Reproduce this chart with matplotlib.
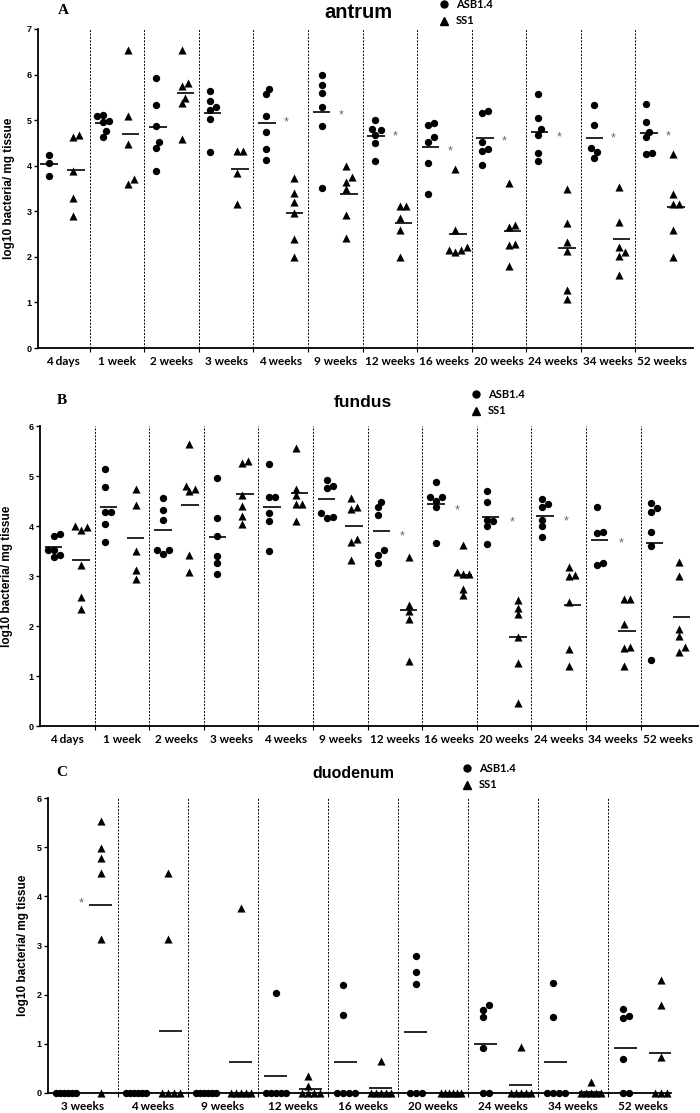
import numpy as np
import matplotlib.pyplot as plt
from matplotlib.lines import Line2D

W, H = 700, 1113

# ---- panel A: antrum ----
antrum_times = ["4 days", "1 week", "2 weeks", "3 weeks", "4 weeks", "9 weeks",
                "12 weeks", "16 weeks", "20 weeks", "24 weeks", "34 weeks", "52 weeks"]
antrum_asb = [[4.24, 4.05, 3.78],
              [5.11, 5.08, 4.99, 4.97, 4.76, 4.63],
              [5.93, 5.33, 4.88, 4.52, 4.39, 3.89],
              [5.65, 5.43, 5.28, 5.22, 5.03, 4.31],
              [5.69, 5.57, 5.09, 4.74, 4.36, 4.12],
              [5.98, 5.77, 5.59, 5.29, 4.88, 3.51],
              [5.00, 4.80, 4.78, 4.68, 4.49, 4.10],
              [4.93, 4.90, 4.63, 4.53, 4.05, 3.39],
              [5.19, 5.15, 4.53, 4.36, 4.33, 4.01],
              [5.57, 5.05, 4.81, 4.68, 4.27, 4.10],
              [5.33, 4.89, 4.39, 4.30, 4.17],
              [5.35, 4.96, 4.74, 4.62, 4.28, 4.26]]
antrum_ss1 = [[4.68, 4.62, 3.89, 3.29, 2.89],
              [6.53, 5.09, 4.47, 3.70, 3.59],
              [6.55, 5.81, 5.75, 5.49, 5.37, 4.59],
              [4.32, 4.32, 3.83, 3.17],
              [3.72, 3.40, 3.21, 2.97, 2.39, 2.00],
              [3.99, 3.76, 3.65, 3.50, 2.91, 2.42],
              [3.11, 3.11, 2.86, 2.59, 2.00],
              [3.92, 2.58, 2.22, 2.16, 2.15, 2.11],
              [3.62, 2.69, 2.66, 2.28, 2.26, 1.79],
              [3.50, 2.75, 2.32, 2.13, 1.27, 1.07],
              [3.54, 2.77, 2.22, 2.11, 2.01, 1.61],
              [4.25, 3.39, 3.16, 3.16, 2.60, 2.00]]
antrum_asb_line = [4.03, 4.94, 4.85, 5.15, 4.93, 5.18, 4.66, 4.42, 4.61, 4.75, 4.61, 4.71]
antrum_ss1_line = [3.90, 4.70, 5.60, 3.93, 2.97, 3.38, 2.75, 2.51, 2.57, 2.20, 2.39, 3.10]
antrum_star = [None, None, None, None, 4.94, 5.11, 4.65, 4.32, 4.53, 4.63, 4.60, 4.65]

# ---- panel B: fundus ----
fundus_times = antrum_times
fundus_asb = [[3.85, 3.81, 3.53, 3.52, 3.42, 3.39],
              [5.14, 4.78, 4.29, 4.29, 4.04, 3.69],
              [4.56, 4.33, 4.13, 3.53, 3.53, 3.45],
              [4.96, 4.17, 3.80, 3.40, 3.27, 3.04],
              [5.23, 4.59, 4.59, 4.27, 4.11, 3.51],
              [4.93, 4.81, 4.77, 4.26, 4.19, 4.17],
              [4.49, 4.38, 4.23, 3.53, 3.43, 3.27],
              [4.88, 4.59, 4.59, 4.51, 4.38, 3.67],
              [4.69, 4.49, 4.13, 4.11, 4.01, 3.65],
              [4.53, 4.44, 4.38, 4.13, 4.01, 3.78],
              [4.39, 3.89, 3.86, 3.27, 3.23],
              [4.47, 4.37, 4.28, 3.88, 3.60, 1.33]]
fundus_ss1 = [[4.00, 3.99, 3.92, 3.22, 2.58, 2.35],
              [4.73, 4.42, 3.51, 3.13, 2.95],
              [5.63, 4.81, 4.73, 4.69, 3.43, 3.09],
              [5.29, 5.25, 4.63, 4.40, 4.20, 4.04],
              [5.55, 4.73, 4.61, 4.44, 4.44, 4.11],
              [4.56, 4.38, 4.34, 3.75, 3.69, 3.33],
              [3.39, 2.43, 2.31, 2.15, 1.30],
              [3.63, 3.09, 3.05, 3.04, 2.75, 2.63],
              [2.53, 2.37, 2.25, 1.78, 1.27, 0.47],
              [3.18, 3.03, 3.01, 2.48, 1.54, 1.20],
              [2.54, 2.54, 2.05, 1.58, 1.56, 1.21],
              [3.28, 3.00, 1.95, 1.80, 1.58, 1.49]]
fundus_asb_line = [3.58, 4.38, 3.93, 3.79, 4.39, 4.54, 3.90, 4.44, 4.19, 4.21, 3.73, 3.67]
fundus_ss1_line = [3.33, 3.77, 4.42, 4.64, 4.66, 4.01, 2.33, 3.03, 1.79, 2.42, 1.91, 2.19]
fundus_star = [None, None, None, None, None, None, 3.80, 4.31, 4.07, 4.09, 3.66, None]

# ---- panel C: duodenum ----
duod_times = ["3 weeks", "4 weeks", "9 weeks", "12 weeks", "16 weeks",
              "20 weeks", "24 weeks", "34 weeks", "52 weeks"]
duod_asb = [[0, 0, 0, 0, 0, 0],
            [0, 0, 0, 0, 0, 0],
            [0, 0, 0, 0, 0, 0],
            [2.03, 0, 0, 0, 0, 0],
            [2.19, 1.58, 0, 0, 0, 0],
            [2.79, 2.46, 2.22, 0, 0, 0],
            [1.78, 1.68, 1.54, 0.92, 0, 0],
            [2.23, 1.54, 0, 0, 0, 0],
            [1.70, 1.56, 1.52, 0.69, 0, 0]]
duod_ss1 = [[5.53, 4.99, 4.77, 4.48, 3.13, 0],
            [4.48, 3.13, 0, 0, 0, 0],
            [3.76, 0, 0, 0, 0, 0],
            [0.35, 0.14, 0, 0, 0, 0],
            [0.66, 0, 0, 0, 0, 0],
            [0, 0, 0, 0, 0, 0],
            [0.93, 0, 0, 0, 0, 0],
            [0.22, 0, 0, 0, 0, 0],
            [2.29, 1.79, 0.74, 0, 0, 0]]
duod_asb_line = [0, 0, 0, 0.34, 0.63, 1.25, 0.99, 0.63, 0.92]
duod_ss1_line = [3.82, 1.27, 0.63, 0.08, 0.11, 0, 0.16, 0.03, 0.81]
duod_star = [3.86, None, None, None, None, None, None, None, None]

TICK_FONT = "Lato"
SANS = "Liberation Sans"


def px_rect(left, top, right, bottom):
    return [left / W, 1 - bottom / H, (right - left) / W, (bottom - top) / H]


def find_x(y, placed, d):
    k = 0
    while True:
        cands = (0.0,) if k == 0 else (k * d / 2, -k * d / 2)
        for c in cands:
            if all(np.hypot(c - px, y - py) >= d for px, py in placed):
                return c
        k += 1


# simple column scatter: spread close points sideways (in pixels)
def swarm(vals, y_px, d=6.0, max_w=20.0):
    vals = np.asarray(vals, float)
    xs = np.zeros(len(vals))
    placed = []
    for i in np.argsort(vals):
        xs[i] = find_x(vals[i] * y_px, placed, d)
        placed.append((xs[i], vals[i] * y_px))
    span = xs.max() - xs.min()
    if span > max_w:
        xs *= max_w / span
    return xs - (xs.max() + xs.min()) / 2


def draw_panel(fig, rect, xlim, ymax, times, asb, ss1, asb_line, ss1_line,
               stars, star_dx, letter, title, legend_xy, ylabel_px):
    ax = fig.add_axes(px_rect(*rect))
    n = len(times)
    ax.set_xlim(*xlim)
    ax.set_ylim(0, ymax)
    cat_px = (rect[2] - rect[0]) / (xlim[1] - xlim[0])
    y_px = (rect[3] - rect[1]) / ymax

    for b in np.arange(n - 1) + 0.5:
        ax.axvline(b, color="black", lw=0.7, ls=(0, (2, 1.5)), zorder=1)

    for i in range(n):
        for vals, line, dx, mk, ms in ((asb[i], asb_line[i], -0.25, "o", 28),
                                       (ss1[i], ss1_line[i], 0.25, "^", 34)):
            off = swarm(vals, y_px) / cat_px
            ax.scatter(i + dx + off, vals, marker=mk, s=ms, color="black",
                       lw=0, zorder=3, clip_on=False)
            ax.plot([i + dx - 0.16, i + dx + 0.16], [line, line],
                    color="black", lw=1.2, zorder=4, solid_capstyle="butt")
        if stars[i] is not None:
            ax.text(i + star_dx, stars[i], "*", ha="center", va="center",
                    fontsize=9, color="#666666", family=SANS)

    for s in ("top", "right"):
        ax.spines[s].set_visible(False)
    for s in ("left", "bottom"):
        ax.spines[s].set_linewidth(1.3)
    ax.set_yticks(range(ymax + 1))
    ax.tick_params(axis="y", length=3, width=1.0, pad=1.5)
    for t in ax.get_yticklabels():
        t.set_fontsize(6.5)
        t.set_fontweight("bold")
        t.set_family(SANS)
    ax.set_xticks(np.arange(n - 1) + 0.5)
    ax.set_xticklabels([])
    ax.tick_params(axis="x", which="major", length=3, width=0.8)
    ax.set_xticks(range(n), minor=True)
    ax.set_xticklabels(times, minor=True, fontsize=8.5, fontweight="bold",
                       family=TICK_FONT)
    ax.tick_params(axis="x", which="minor", length=0, pad=6)

    ax.set_ylabel("log10 bacteria/ mg tissue", fontsize=8.5, fontweight="bold",
                  family=SANS)
    ax.yaxis.set_label_coords((ylabel_px - rect[0]) / (rect[2] - rect[0]), 0.5)

    lx, ly = letter[1], letter[2]
    fig.text(lx / W, 1 - ly / H, letter[0], ha="center", va="center",
             fontsize=11, fontweight="bold", family="Liberation Serif")
    fig.text(title[1] / W, 1 - title[2] / H, title[0], ha="center", va="center",
             fontsize=title[3], fontweight="bold", family=SANS)

    gx, gy = legend_xy
    for j, (mk, lab, ms) in enumerate((("o", "ASB1.4", 5), ("^", "SS1", 6))):
        yy = 1 - (gy + 17 * j) / H
        fig.add_artist(Line2D([gx / W], [yy], marker=mk, ms=ms, color="black",
                              lw=0, transform=fig.transFigure))
        fig.text((gx + 12) / W, yy, lab, ha="left", va="center", fontsize=8,
                 fontweight="bold", family=TICK_FONT)
    return ax


fig = plt.figure(figsize=(W / 100, H / 100), dpi=100)

draw_panel(fig, (38, 29, 693, 348), (-0.45, 11.56), 7, antrum_times,
           antrum_asb, antrum_ss1, antrum_asb_line, antrum_ss1_line,
           antrum_star, 0.1, ("A", 63, 10), ("antrum", 358, 13, 14.5), (444, 4), 15)

draw_panel(fig, (40, 426, 698, 726), (-0.5, 11.55), 6, fundus_times,
           fundus_asb, fundus_ss1, fundus_asb_line, fundus_ss1_line,
           fundus_star, 0.14, ("B", 62, 400), ("fundus", 363, 402, 12.5), (476, 394), 13)

draw_panel(fig, (48, 798, 671, 1093), (-0.5, 8.4), 6, duod_times,
           duod_asb, duod_ss1, duod_asb_line, duod_ss1_line,
           duod_star, -0.03, ("C", 62, 773), ("duodenum", 353, 773, 11.5), (467, 768), 29)

fig.savefig("out.png", dpi=100)
